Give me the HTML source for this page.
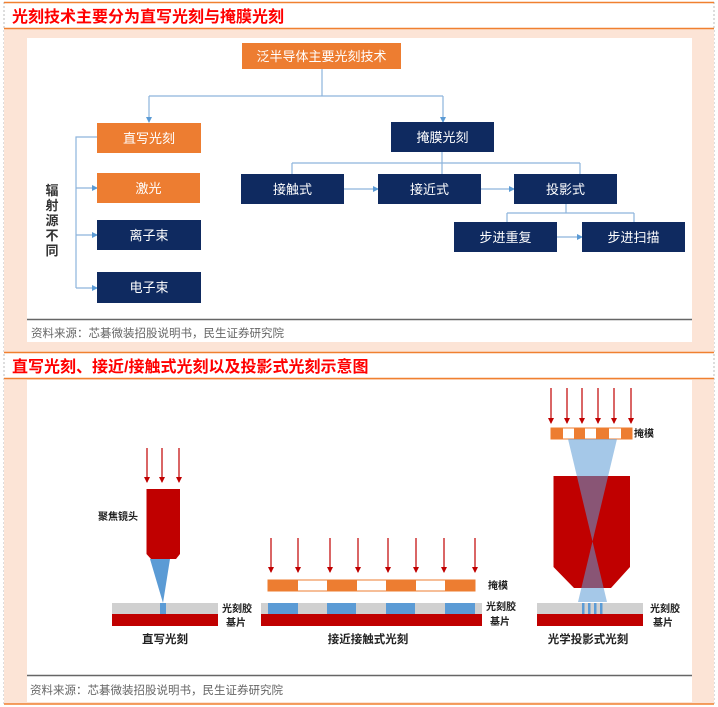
<!DOCTYPE html>
<html><head><meta charset="utf-8"><style>
body{margin:0;width:718px;height:707px;background:#fff;overflow:hidden;font-family:"Liberation Sans","Noto Sans CJK SC",sans-serif}
svg{position:absolute;left:0;top:0}
</style></head><body>
<svg width="718" height="707" viewBox="0 0 718 707" xmlns="http://www.w3.org/2000/svg" font-family="Liberation Sans, Noto Sans CJK SC, sans-serif">
<defs>
<marker id="a" markerWidth="6" markerHeight="6" refX="5" refY="3" orient="auto" markerUnits="userSpaceOnUse"><path d="M0,0 L6,3 L0,6z" fill="#5b9bd5"/></marker>
<marker id="r" markerWidth="6" markerHeight="6" refX="5" refY="3" orient="auto" markerUnits="userSpaceOnUse"><path d="M0,0 L6,3 L0,6z" fill="#c00000"/></marker>
</defs>
<!-- frame -->
<line x1="4" y1="2" x2="4" y2="705" stroke="#bbb" stroke-dasharray="2,2"/>
<line x1="714" y1="2" x2="714" y2="705" stroke="#bbb" stroke-dasharray="2,2"/>
<rect x="4" y="28" width="710" height="324" fill="#fce4d6"/>
<rect x="4" y="379" width="710" height="325" fill="#fce4d6"/>
<line x1="4" y1="2.5" x2="714" y2="2.5" stroke="#f08030" stroke-width="1.5"/>
<line x1="4" y1="28.5" x2="714" y2="28.5" stroke="#f08030" stroke-width="1.5"/>
<line x1="4" y1="352.5" x2="714" y2="352.5" stroke="#f08030" stroke-width="1.5"/>
<line x1="4" y1="378.5" x2="714" y2="378.5" stroke="#f08030" stroke-width="1.5"/>
<line x1="4" y1="704" x2="714" y2="704" stroke="#f08030" stroke-width="1.5"/>
<text x="12" y="22" font-size="16" fill="#ff0000" font-weight="bold">光刻技术主要分为直写光刻与掩膜光刻</text>
<text x="12" y="372" font-size="16" fill="#ff0000" font-weight="bold">直写光刻、接近/接触式光刻以及投影式光刻示意图</text>

<!-- panel 1 -->
<rect x="27" y="38" width="665" height="304" fill="#fff"/>
<line x1="27" y1="319.5" x2="692" y2="319.5" stroke="#666" stroke-width="1.5"/>
<text x="31" y="337" font-size="11.5" fill="#666">资料来源：芯碁微装招股说明书，民生证券研究院</text>

<g stroke="#8db4dc" stroke-width="1.2" fill="none">
<path d="M322 69 V96 M149 96 H443"/>
<path d="M149 96 V122" marker-end="url(#a)"/>
<path d="M443 96 V122" marker-end="url(#a)"/>
<path d="M97 137 H76 V288"/>
<path d="M76 188 H97" marker-end="url(#a)"/>
<path d="M76 235 H97" marker-end="url(#a)"/>
<path d="M76 288 H97" marker-end="url(#a)"/>
<path d="M442 152 V174 M292 163 H580 M292 163 V174 M580 163 V174"/>
<path d="M344 189 H378" marker-end="url(#a)"/>
<path d="M481 189 H514" marker-end="url(#a)"/>
<path d="M566 204 V213 M507 213 H634 M507 213 V222 M634 213 V222"/>
<path d="M557 237 H582" marker-end="url(#a)"/>
</g>
<g font-size="13" text-anchor="middle" fill="#fff">
<rect x="242" y="43" width="159" height="26" fill="#ed7d31"/><text x="321.5" y="61">泛半导体主要光刻技术</text>
<rect x="97" y="123" width="104" height="30" fill="#ed7d31"/><text x="149" y="143">直写光刻</text>
<rect x="97" y="173" width="103" height="30" fill="#ed7d31"/><text x="148.5" y="193">激光</text>
<rect x="97" y="220" width="104" height="30" fill="#0f2a60"/><text x="149" y="240">离子束</text>
<rect x="97" y="272" width="104" height="31" fill="#0f2a60"/><text x="149" y="292">电子束</text>
<rect x="391" y="122" width="103" height="30" fill="#0f2a60"/><text x="442.5" y="142">掩膜光刻</text>
<rect x="241" y="174" width="103" height="30" fill="#0f2a60"/><text x="292.5" y="194">接触式</text>
<rect x="378" y="174" width="103" height="30" fill="#0f2a60"/><text x="429.5" y="194">接近式</text>
<rect x="514" y="174" width="103" height="30" fill="#0f2a60"/><text x="565.5" y="194">投影式</text>
<rect x="454" y="222" width="103" height="30" fill="#0f2a60"/><text x="505.5" y="242">步进重复</text>
<rect x="582" y="222" width="103" height="30" fill="#0f2a60"/><text x="633.5" y="242">步进扫描</text>
</g>
<g font-size="13" font-weight="bold" fill="#333" text-anchor="middle">
<text x="52" y="195">辐</text><text x="52" y="210">射</text><text x="52" y="225">源</text><text x="52" y="240">不</text><text x="52" y="255">同</text>
</g>

<!-- panel 2 -->
<rect x="27" y="380" width="665" height="322" fill="#fff"/>
<line x1="27" y1="675.5" x2="692" y2="675.5" stroke="#666" stroke-width="1.5"/>
<text x="30" y="694" font-size="11.5" fill="#666">资料来源：芯碁微装招股说明书，民生证券研究院</text>

<g stroke="#c00000" stroke-width="1.2">
<line x1="147" y1="448" x2="147" y2="482" marker-end="url(#r)"/>
<line x1="162" y1="448" x2="162" y2="482" marker-end="url(#r)"/>
<line x1="179" y1="448" x2="179" y2="482" marker-end="url(#r)"/>
<line x1="271" y1="538" x2="271" y2="572" marker-end="url(#r)"/>
<line x1="298" y1="538" x2="298" y2="572" marker-end="url(#r)"/>
<line x1="330" y1="538" x2="330" y2="572" marker-end="url(#r)"/>
<line x1="358" y1="538" x2="358" y2="572" marker-end="url(#r)"/>
<line x1="388" y1="538" x2="388" y2="572" marker-end="url(#r)"/>
<line x1="416" y1="538" x2="416" y2="572" marker-end="url(#r)"/>
<line x1="444" y1="538" x2="444" y2="572" marker-end="url(#r)"/>
<line x1="475" y1="538" x2="475" y2="572" marker-end="url(#r)"/>
<line x1="551" y1="388" x2="551" y2="423" marker-end="url(#r)"/>
<line x1="567" y1="388" x2="567" y2="423" marker-end="url(#r)"/>
<line x1="582" y1="388" x2="582" y2="423" marker-end="url(#r)"/>
<line x1="598" y1="388" x2="598" y2="423" marker-end="url(#r)"/>
<line x1="614" y1="388" x2="614" y2="423" marker-end="url(#r)"/>
<line x1="631" y1="388" x2="631" y2="423" marker-end="url(#r)"/>
</g>

<!-- left -->
<path d="M146.5 489 H180 V554 L176 559 H151 L146.5 554z" fill="#c00000"/>
<path d="M150 559 H170 L163 603z" fill="#5b9bd5"/>
<rect x="112" y="603" width="106" height="11" fill="#d0d0d0"/>
<rect x="160" y="603" width="6" height="11" fill="#5b9bd5"/>
<rect x="112" y="614" width="106" height="12" fill="#c00000"/>
<g font-size="10" font-weight="bold" fill="#222">
<text x="98" y="520">聚焦镜头</text>
<text x="222" y="612">光刻胶</text><text x="226" y="626">基片</text>
<text x="488" y="589">掩模</text>
<text x="486" y="610">光刻胶</text><text x="490" y="625">基片</text>
<text x="634" y="437">掩模</text>
<text x="650" y="612">光刻胶</text><text x="653" y="626">基片</text>
</g>
<g font-size="11.5" font-weight="bold" fill="#222" text-anchor="middle">
<text x="165" y="643">直写光刻</text>
<text x="368" y="643">接近接触式光刻</text>
<text x="588" y="643">光学投影式光刻</text>
</g>

<!-- middle -->
<rect x="268" y="580" width="207" height="11" fill="#fff" stroke="#ed7d31"/>
<g fill="#ed7d31">
<rect x="268" y="580" width="30" height="11"/><rect x="327" y="580" width="30" height="11"/><rect x="386" y="580" width="30" height="11"/><rect x="445" y="580" width="30" height="11"/>
</g>
<rect x="261" y="603" width="221" height="11" fill="#d0d0d0"/>
<g fill="#5b9bd5">
<rect x="268" y="603" width="30" height="11"/><rect x="327" y="603" width="29" height="11"/><rect x="386" y="603" width="29" height="11"/><rect x="445" y="603" width="30" height="11"/>
</g>
<rect x="261" y="614" width="221" height="12" fill="#c00000"/>

<!-- right -->
<rect x="551" y="428" width="81" height="11" fill="#fff" stroke="#ed7d31"/>
<g fill="#ed7d31">
<rect x="551" y="428" width="12" height="11"/><rect x="574" y="428" width="11" height="11"/><rect x="596" y="428" width="13" height="11"/><rect x="621" y="428" width="11" height="11"/>
</g>
<path d="M553.5 476 H630 V567 L611 588 H574 L553.5 567z" fill="#c00000"/>
<path d="M568 439 H617 L578 602 H607 L568 439z" fill="#5b9bd5" fill-opacity="0.55"/>
<rect x="537" y="603" width="106" height="11" fill="#d0d0d0"/>
<g fill="#5b9bd5"><rect x="582" y="603" width="2.5" height="11"/><rect x="588" y="603" width="2.5" height="11"/><rect x="594" y="603" width="2.5" height="11"/><rect x="600" y="603" width="2.5" height="11"/></g>
<rect x="537" y="614" width="106" height="12" fill="#c00000"/>
</svg>
</body></html>
